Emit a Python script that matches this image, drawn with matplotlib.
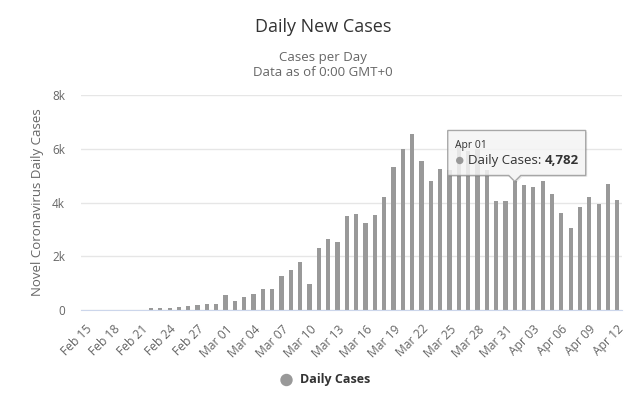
import matplotlib
matplotlib.use("Agg")
import matplotlib.pyplot as plt
from matplotlib.patches import Polygon, Circle
import numpy as np
import datetime as dt

plt.rcParams['font.family'] = ['Open Sans', 'DejaVu Sans']

start = dt.date(2020, 2, 15)
dates = [start + dt.timedelta(days=i) for i in range(58)]
labels = [d.strftime('%b %d') for d in dates]

daily_cases = [0, 0, 0, 0, 0, 0, 14, 62, 78, 72, 94, 147, 185, 234, 239,
               566, 342, 466, 587, 769, 778, 1247, 1492, 1797, 977, 2313, 2651, 2547,
               3497, 3590, 3233, 3526, 4207, 5322, 5986, 6557, 5560, 4789, 5249, 5210,
               6203, 5909, 5974, 5217, 4050, 4053,
               4782, 4668, 4585, 4805, 4316, 3599, 3039, 3836, 4204, 3951, 4694, 4092]

yticks = [0, 2000, 4000, 6000, 8000]
ytick_labels = ['0', '2k', '4k', '6k', '8k']
tooltip_index = 46

W, H = 633, 399
fig = plt.figure(figsize=(W/100, H/100), dpi=100)
L, R, T, B = 81, 622, 95, 310
ax = fig.add_axes([L/W, 1 - B/H, (R-L)/W, (B-T)/H])

x = np.arange(len(daily_cases))
ax.bar(x, daily_cases, width=0.45, color='#999999', zorder=2)
ax.set_xlim(-0.5, len(daily_cases) - 0.5)
ax.set_ylim(0, 8000)
ax.set_yticks(yticks)
ax.set_yticklabels(ytick_labels, color='#666666', fontsize=8.5)
ax.set_xticks(x[::3])
ax.set_xticklabels(labels[::3], rotation=45, ha='right', rotation_mode='anchor',
                   color='#666666', fontsize=8.7)
ax.tick_params(axis='x', length=0, pad=9)
ax.tick_params(axis='y', length=0, pad=11.5)
ax.grid(axis='y', color='#e6e6e6', linewidth=1, zorder=0)
for s in ['top', 'right', 'left']:
    ax.spines[s].set_visible(False)
ax.spines['bottom'].set_color('#ccd6eb')
ax.set_ylabel('Novel Coronavirus Daily Cases', color='#666666', fontsize=9.5)
ax.yaxis.set_label_coords((37.5 - L) / (R - L), 0.5)
ax.yaxis.label.set_va('center')

cx = 323 / W
fig.text(cx, 1 - 27/H, 'Daily New Cases', ha='center', va='center', fontsize=13, color='#333333')
fig.text(cx, 1 - 58/H, 'Cases per Day', ha='center', va='center', fontsize=9.5, color='#666666')
fig.text(cx, 1 - 73/H, 'Data as of 0:00 GMT+0', ha='center', va='center', fontsize=9.5, color='#666666')

# legend
fig.patches.append(Circle((286.5, H - 380), 5.5, transform=None, color='#999999'))
fig.text(300/W, 1 - 380/H, 'Daily Cases', ha='left', va='center', fontsize=9,
         fontweight='bold', color='#333333')

# tooltip
fig.canvas.draw()
px, py = ax.transData.transform((tooltip_index, daily_cases[tooltip_index]))
bl, br = px - 67, px + 71
bt, bb = py + 51, py + 6
poly = [(bl, bb), (px - 6, bb), (px, bb - 6), (px + 6, bb), (br, bb), (br, bt), (bl, bt)]
shadow = Polygon([(a + 1.5, b - 1.5) for a, b in poly], closed=True, transform=None,
                 facecolor='black', alpha=0.08, edgecolor='none', zorder=5)
box = Polygon(poly, closed=True, transform=None, facecolor='#f7f7f7', alpha=0.85,
              edgecolor='#999999', linewidth=1, zorder=6)
fig.patches.append(shadow)
fig.patches.append(box)
fig.text((bl + 7)/W, (bt - 15)/H, labels[tooltip_index], ha='left', va='center',
         fontsize=7.5, color='#333333', zorder=7)
fig.patches.append(Circle((bl + 12, bt - 30), 3, transform=None, color='#999999', zorder=7))
t1 = fig.text((bl + 20)/W, (bt - 30)/H, 'Daily Cases: ', ha='left', va='center',
              fontsize=9.5, color='#333333', zorder=7)
fig.canvas.draw()
ext = t1.get_window_extent()
fig.text(ext.x1/W, (bt - 30)/H, f'{daily_cases[tooltip_index]:,}', ha='left', va='center',
         fontsize=9.5, fontweight='bold', color='#333333', zorder=7)

fig.savefig('out.png', dpi=100)
